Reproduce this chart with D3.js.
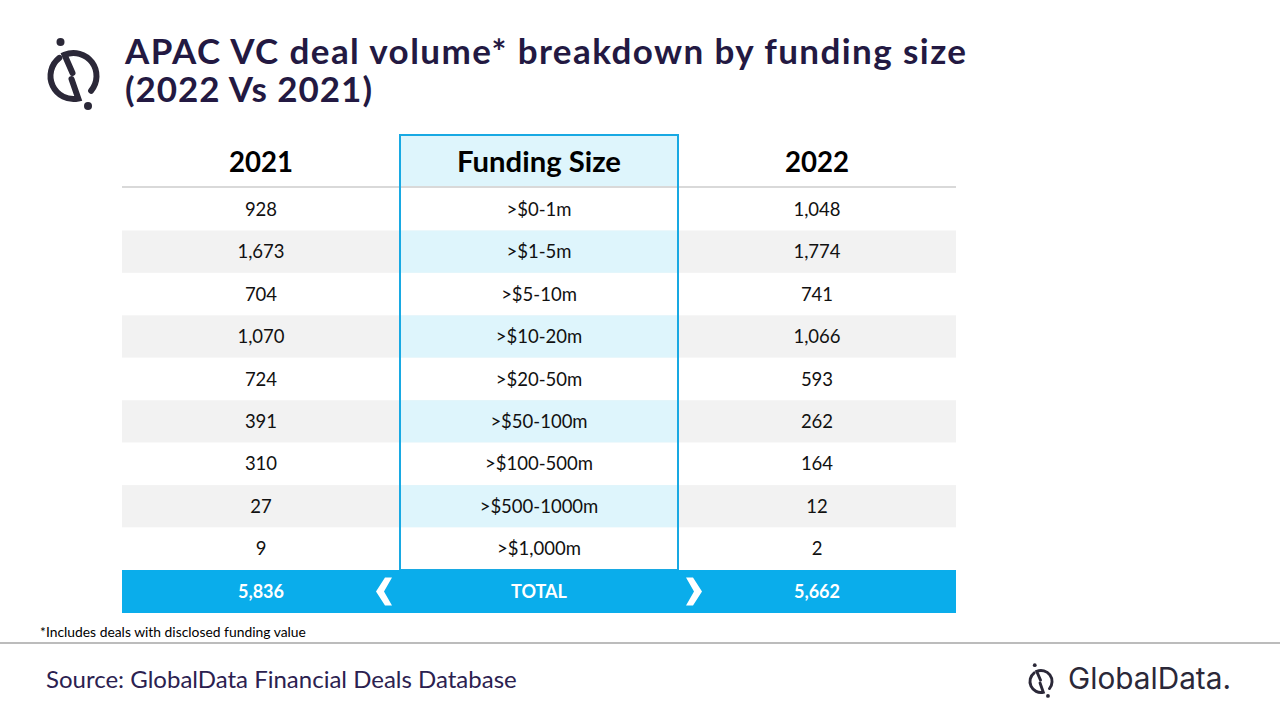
<!DOCTYPE html>
<html>
<head>
<meta charset="utf-8">
<script src="https://cdn.jsdelivr.net/npm/d3@7"></script>
<style>
  body { margin: 0; background: #fff; }
  svg text { font-family: Lato, "Open Sans", sans-serif; }
</style>
</head>
<body>
<div id="vis"></div>
<script>
// data
const sizes = [">$0-1m", ">$1-5m", ">$5-10m", ">$10-20m", ">$20-50m", ">$50-100m", ">$100-500m", ">$500-1000m", ">$1,000m"];
const v2021 = [928, 1673, 704, 1070, 724, 391, 310, 27, 9];
const v2022 = [1048, 1774, 741, 1066, 593, 262, 164, 12, 2];
const headers = ["2021", "Funding Size", "2022"];
const titleLines = ["APAC VC deal volume* breakdown by funding size", "(2022 Vs 2021)"];

const W = 1280, H = 720;
const fmt = d3.format(",");
const titleColor = "#231942";
const blue = "#0aadeb";

const svg = d3.select("#vis").append("svg").attr("width", W).attr("height", H);

// scale font until the text fits a target width
function fitText(sel, target) {
  let fs = parseFloat(sel.attr("font-size"));
  let len = sel.node().getComputedTextLength();
  if (len > 0) {
    fs = fs * target / len;
    sel.attr("font-size", fs);
  }
}
// keep the font size, spread letters to reach the width
function spreadText(sel, target) {
  const len = sel.node().getComputedTextLength();
  const n = sel.text().length;
  if (len > 0 && n > 1) sel.attr("letter-spacing", (target - len) / (n - 1));
}

// ---- logo (ring with split + dots)
function logo(g, cx, cy, s, col) {
  const r = 23;
  const lg = g.append("g").attr("transform", "translate(" + cx + "," + cy + ")scale(" + s + ")");
  const rad = a => a * Math.PI / 180;
  const pt = a => [r * Math.cos(rad(a)), r * Math.sin(rad(a))];
  // right piece: inner line up to the top, then arc clockwise around right side
  let p = d3.path();
  p.moveTo(-1, -3);
  let a0 = pt(-113);
  p.lineTo(a0[0], a0[1]);
  p.arc(0, 0, r, rad(-113), rad(40), false);
  lg.append("path").attr("d", p.toString()).attr("fill", "none")
    .attr("stroke", col).attr("stroke-width", 6).attr("stroke-linecap", "round");
  // left piece: arc counter-clockwise around left side then inner line up
  p = d3.path();
  let b0 = pt(-128);
  p.moveTo(b0[0], b0[1]);
  p.arc(0, 0, r, rad(-128), rad(78), true);
  p.lineTo(-2, 3);
  lg.append("path").attr("d", p.toString()).attr("fill", "none")
    .attr("stroke", col).attr("stroke-width", 6).attr("stroke-linecap", "round");
  lg.append("circle").attr("cx", -13).attr("cy", -34).attr("r", 4).attr("fill", col);
  lg.append("circle").attr("cx", 14.5).attr("cy", 30).attr("r", 4).attr("fill", col);
}

logo(svg, 73.5, 76, 1, "#2b2838");

// ---- title
const titleTargets = [841, 247];
titleLines.forEach(function(t, i) {
  const tx = svg.append("text")
    .attr("x", 125).attr("y", 64 + i * 38)
    .attr("font-size", 35).attr("font-weight", 700)
    .attr("fill", titleColor).text(t);
  spreadText(tx, titleTargets[i]);
});

// ---- table scales
const x = d3.scaleBand().domain(d3.range(3)).range([122, 956]);
const y = d3.scaleBand().domain(d3.range(sizes.length)).range([188, 570]);
const headTop = 135, headBot = 187;
const totalTop = 570, totalBot = 613;

const rows = sizes.map((s, i) => [fmt(v2021[i]), s, fmt(v2022[i])]);

// row backgrounds
const rowG = svg.append("g");
rowG.selectAll("rect.row").data(rows).enter().append("rect")
  .attr("class", "row")
  .attr("x", x(0)).attr("width", x.range()[1] - x(0))
  .attr("y", (d, i) => y(i)).attr("height", y.bandwidth())
  .attr("fill", (d, i) => i % 2 === 1 ? "#f2f2f2" : "#ffffff");

// middle column light blue cells (header + alternate rows)
svg.append("rect").attr("x", x(1)).attr("y", headTop).attr("width", x.bandwidth())
  .attr("height", headBot - headTop).attr("fill", "#def5fc");
rowG.selectAll("rect.mid").data(rows).enter().append("rect")
  .attr("class", "mid")
  .attr("x", x(1)).attr("width", x.bandwidth())
  .attr("y", (d, i) => y(i)).attr("height", y.bandwidth())
  .attr("fill", (d, i) => i % 2 === 1 ? "#def5fc" : "#ffffff");

// header underline
svg.append("line").attr("x1", x(0)).attr("x2", x.range()[1])
  .attr("y1", headBot).attr("y2", headBot)
  .attr("stroke", "#d9d9d9").attr("stroke-width", 2);

// header text
const headTargets = [64, 164, 64];
headers.forEach(function(hd, j) {
  const t = svg.append("text")
    .attr("x", x(j) + x.bandwidth() / 2).attr("y", 172)
    .attr("text-anchor", "middle").attr("font-size", 28).attr("font-weight", 700)
    .attr("fill", "#000").text(hd);
  fitText(t, headTargets[j]);
});

// cell text
rows.forEach(function(r, i) {
  svg.append("g").selectAll("text").data(r).enter().append("text")
    .attr("x", (d, j) => x(j) + x.bandwidth() / 2)
    .attr("y", y(i) + y.bandwidth() / 2 + 6.5)
    .attr("text-anchor", "middle").attr("font-size", 18.5)
    .attr("fill", "#111").text(d => d);
});

// middle column border
svg.append("rect").attr("x", x(1)).attr("y", headTop)
  .attr("width", x.bandwidth()).attr("height", totalTop - headTop)
  .attr("fill", "none").attr("stroke", "#18a9e3").attr("stroke-width", 2);

// total row
svg.append("rect").attr("x", x(0)).attr("y", totalTop)
  .attr("width", x.range()[1] - x(0)).attr("height", totalBot - totalTop)
  .attr("fill", blue);
const totals = [fmt(d3.sum(v2021)), "TOTAL", fmt(d3.sum(v2022))];
svg.append("g").selectAll("text").data(totals).enter().append("text")
  .attr("x", (d, j) => x(j) + x.bandwidth() / 2)
  .attr("y", (totalTop + totalBot) / 2 + 6.5)
  .attr("text-anchor", "middle").attr("font-size", 18).attr("font-weight", 700)
  .attr("fill", "#fff").text(d => d);

// chevrons
function chevron(cx, dir) {
  const w = 16, h = 28, cy = (totalTop + totalBot) / 2;
  const pts = [[0, 0], [7, 0], [16, 14], [7, 28], [0, 28], [8, 14]]
    .map(p => [cx + dir * (p[0] - w / 2), cy - h / 2 + p[1]]);
  svg.append("polygon").attr("points", pts.map(p => p.join(",")).join(" ")).attr("fill", "#fff");
}
chevron(x(1) - 16, -1);
chevron(x(2) + 16, 1);

// footnote
const foot = svg.append("text").attr("x", 40).attr("y", 637).attr("font-size", 12)
  .attr("fill", "#000").text("*Includes deals with disclosed funding value");
fitText(foot, 266);

// bottom separator
svg.append("line").attr("x1", 0).attr("x2", W).attr("y1", 643).attr("y2", 643)
  .attr("stroke", "#a6a6a6").attr("stroke-width", 1.5);

// source
const src = svg.append("text").attr("x", 46).attr("y", 688).attr("font-size", 22)
  .attr("fill", "#2b2150").text("Source: GlobalData Financial Deals Database");
fitText(src, 471);

// GlobalData wordmark
logo(svg, 1041, 681.5, 0.48, "#2b2838");
const gd = svg.append("text").attr("x", 1068).attr("y", 689).attr("font-size", 25)
  .attr("fill", "#2b2838").style("font-family", "Inter, Lato, sans-serif")
  .text("GlobalData.");
fitText(gd, 163);
</script>
</body>
</html>
